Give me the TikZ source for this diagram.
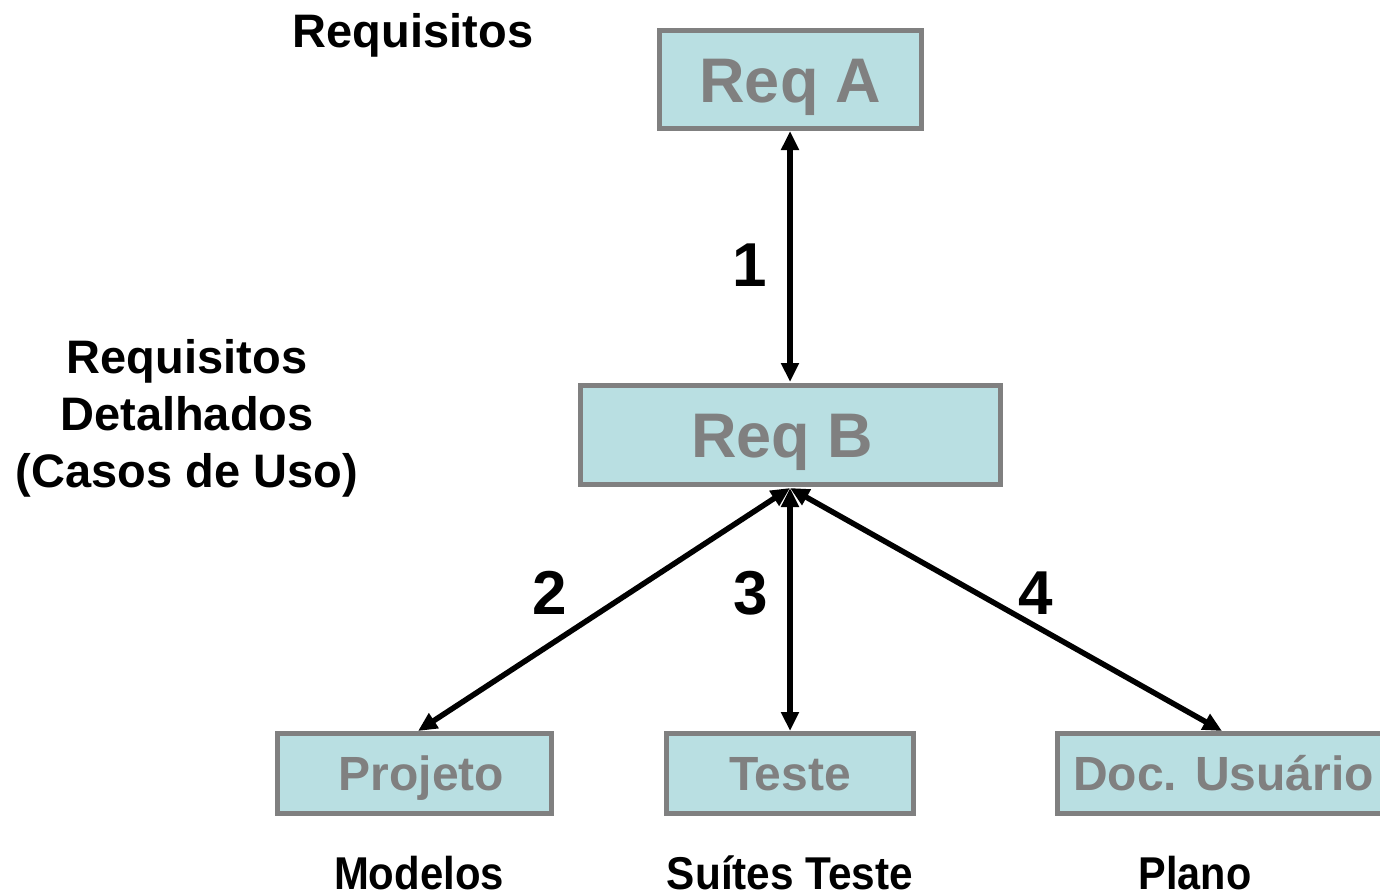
\documentclass[tikz,border=0pt]{standalone}
\usepackage{fontspec}
\setmainfont{Liberation Sans}
\usetikzlibrary{arrows.meta}
\definecolor{boxfill}{HTML}{B9DFE2}
\definecolor{boxline}{HTML}{808080}
\tikzset{
  reqbox/.style={draw=boxline, line width=5pt, fill=boxfill, text=boxline,
    inner sep=0pt, text depth=0pt},
  bigbox/.style={reqbox, font=\fontsize{63}{63}\selectfont\bfseries, text height=45pt},
  smallbox/.style={reqbox, minimum height=80pt, font=\fontsize{48}{48}\selectfont\bfseries, text height=34.4pt},
  caption/.style={font=\fontsize{47}{57}\selectfont\bfseries, align=center, inner sep=0pt},
  output/.style={font=\fontsize{46}{46}\selectfont\bfseries, inner sep=0pt},
  num/.style={font=\fontsize{62}{62}\selectfont\bfseries, inner sep=0pt},
  link/.style={line width=5.5pt, {Triangle[length=19pt,width=17pt]}-{Triangle[length=19pt,width=17pt]}}
}
\begin{document}
\begin{tikzpicture}[x=1pt,y=-1pt]
\useasboundingbox (0,0) rectangle (1380,892);

% requirement boxes
\node[bigbox, minimum width=262pt, minimum height=98pt] (reqA) at (790.5,79.5) {Req A};
\node[bigbox, minimum width=420pt, minimum height=99pt] (reqB) at (790.5,435) {\hspace*{-17pt}Req B};
\node[smallbox, minimum width=274pt] (proj) at (414.5,773.5) {\hspace*{14pt}Projeto};
\node[smallbox, minimum width=247pt] (teste) at (790,773.5) {Teste};
\node[smallbox, minimum width=333pt, anchor=west] (doc) at (1054.5,773.5) {Doc. Usuário};

% side captions
\node[caption] (capReq) at (413,35) {Requisitos};
\node[caption] (capDet) at (187,418) {Requisitos\\Detalhados\\(Casos de Uso)};

% artefacts under the boxes
\node[output] (capMod) at (419,873) {\scalebox{0.91}[1]{Modelos}};
\node[output] (capSui) at (790,873) {\scalebox{0.92}[1]{Suítes Teste}};
\node[output] (capPla) at (1195,873) {\scalebox{0.9}[1]{Plano}};

% trace links
\coordinate (bTop) at (790,382);
\coordinate (bBot) at (790,488);
\coordinate (aBot) at (790,131);
\coordinate (projTop) at (418,731);
\coordinate (testeTop) at (790,731);
\coordinate (docTop) at (1222,731);
\draw[link] (aBot) -- (bTop);
\draw[link] (bBot) -- (projTop);
\draw[link] (bBot) -- (testeTop);
\draw[link] (bBot) -- (docTop);

% link numbers
\node[num] (n1) at (750,265) {1};
\node[num] (n2) at (550,593) {2};
\node[num] (n3) at (751,593) {3};
\node[num] (n4) at (1036,593) {4};
\end{tikzpicture}
\end{document}
